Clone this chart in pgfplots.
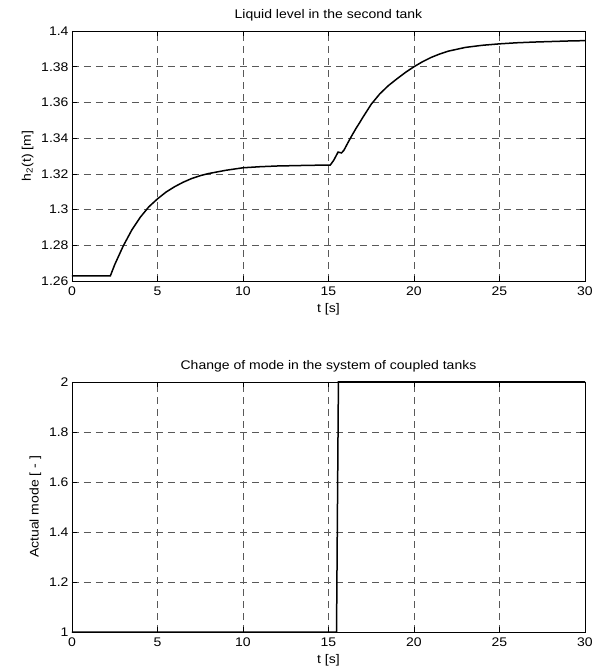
\documentclass[border=0pt]{standalone}
\usepackage{pgfplots}
\pgfplotsset{compat=1.18}
\usepackage{fontspec}
\setmainfont{Liberation Sans}[FakeStretch=1.12]

\pgfplotsset{
  matlab/.style={
    width=513pt, height=250pt, scale only axis,
    xmin=0, xmax=30,
    xtick={0,5,...,30},
    tick align=inside, tick pos=both,
    major tick length=5pt,
    grid=major,
    major grid style={black!65, dash pattern=on 7pt off 5pt, line width=0.6pt},
    axis line style={line width=0.8pt},
    every tick/.style={black, line width=0.6pt},
    tick label style={font=\fontsize{12.5}{14}\selectfont},
    xticklabel style={yshift=-2pt},
    label style={font=\fontsize{12.5}{14}\selectfont},
    title style={font=\fontsize{12.5}{14}\selectfont, yshift=0pt},
    /pgf/number format/assume math mode=true,
    xlabel={t [s]},
    xlabel style={yshift=-1pt},
    ylabel style={yshift=1pt},
  }
}

\begin{document}
\begin{tikzpicture}
\useasboundingbox (-72pt,-38pt) rectangle (524pt,632pt);

% top: liquid level
\begin{axis}[matlab, at={(0,351pt)},
    ymin=1.26, ymax=1.4,
    ytick={1.26,1.28,...,1.401},
    yticklabel style={/pgf/number format/fixed, /pgf/number format/precision=2},
    title={Liquid level in the second tank},
    ylabel={h\textsubscript{2}(t) [m]}]
\addplot[black, line width=1.5pt] coordinates {
(0,1.2628) (2.24,1.2628) (2.5,1.2692) (3.0,1.2797) (3.5,1.2886) (4.0,1.2958)
(4.5,1.3016) (5.0,1.3060) (5.5,1.3098) (6.0,1.3128) (6.5,1.3153) (7.0,1.3174)
(7.5,1.3190) (8.0,1.3202) (9.0,1.3220) (10.0,1.3234) (11.0,1.3240) (12.0,1.3244)
(13.0,1.3246) (14.0,1.3248) (15.1,1.3249) (15.3,1.3275) (15.56,1.3322)
(15.76,1.3317) (15.9,1.3332) (16.1,1.3368) (16.34,1.3410) (16.6,1.3453)
(16.83,1.3488) (17.0,1.3515) (17.22,1.3548) (17.5,1.3590) (18.0,1.3648)
(18.5,1.3694) (19.0,1.3732) (19.5,1.3768) (20.0,1.3800) (20.5,1.3828)
(21.0,1.3852) (21.5,1.3871) (22.0,1.3887) (23.0,1.3908) (24.0,1.3920)
(25.0,1.3928) (26.0,1.3934) (27.0,1.3938) (28.0,1.3941) (29.0,1.3944) (30.0,1.3946)
};
\end{axis}

% bottom: mode
\begin{axis}[matlab, at={(0,0)},
    ymin=1, ymax=2,
    ytick={1,1.2,...,2.01},
    title={Change of mode in the system of coupled tanks},
    ylabel={Actual mode [ - ]}]
\addplot[black, line width=1.5pt] coordinates {
(0,1) (15.47,1) (15.58,2) (30,2)
};
\end{axis}
\end{tikzpicture}
\end{document}
